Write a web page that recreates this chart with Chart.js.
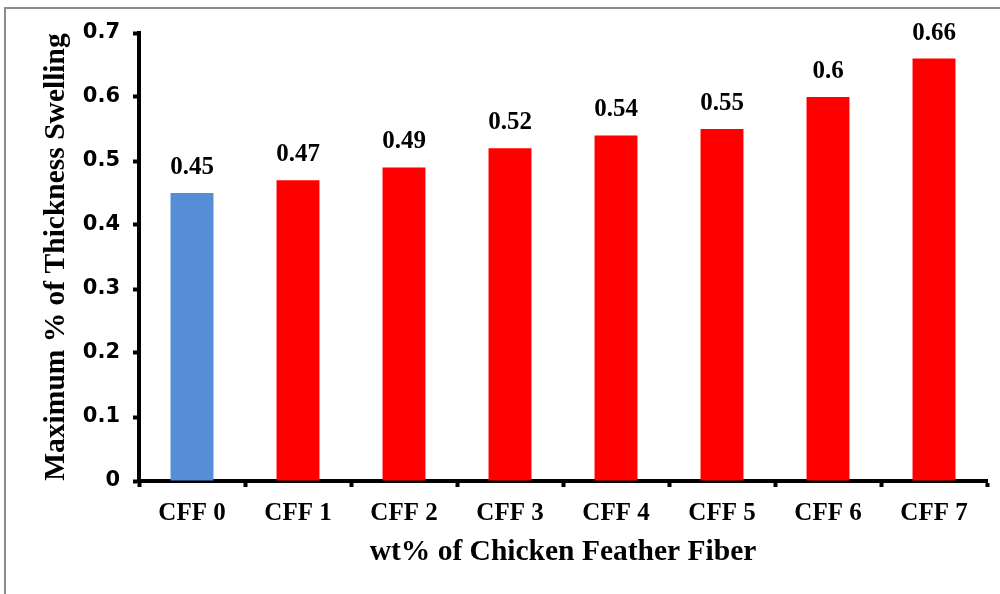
<!DOCTYPE html>
<html>
<head>
<meta charset="utf-8">
<script src="https://cdn.jsdelivr.net/npm/chart.js@4/dist/chart.umd.min.js"></script>
<style>
  html, body { margin: 0; padding: 0; background: #ffffff; }
  #wrap { width: 1000px; height: 594px; }
</style>
</head>
<body>
<div id="wrap"><canvas id="c" width="1000" height="594"></canvas></div>
<script>
// Sample codes and measured maximum thickness swelling
const categories = ['CFF 0', 'CFF 1', 'CFF 2', 'CFF 3', 'CFF 4', 'CFF 5', 'CFF 6', 'CFF 7'];
const swelling = [0.45, 0.47, 0.49, 0.52, 0.54, 0.55, 0.6, 0.66];
const yTicks = [0, 0.1, 0.2, 0.3, 0.4, 0.5, 0.6, 0.7];

const CONTROL_BLUE = '#558ED5';
const FIBER_RED = '#FF0000';
const barColors = categories.map((_, i) => i === 0 ? CONTROL_BLUE : FIBER_RED);

const serifBold = (size) => ({ family: '"Liberation Serif", "Times New Roman", serif', size: size, weight: 'bold' });

// Light grey frame around the figure
const framePlugin = {
  id: 'frame',
  beforeDraw(chart) {
    const ctx = chart.ctx;
    ctx.save();
    ctx.fillStyle = '#ffffff';
    ctx.fillRect(0, 0, chart.width, chart.height);
    ctx.strokeStyle = '#8c8c8c';
    ctx.lineWidth = 2;
    ctx.beginPath();
    ctx.moveTo(5, chart.height);
    ctx.lineTo(5, 8);
    ctx.lineTo(chart.width, 8);
    ctx.stroke();
    ctx.restore();
  }
};

// Value printed above each bar
const valueLabels = {
  id: 'valueLabels',
  afterDatasetsDraw(chart) {
    const ctx = chart.ctx;
    const meta = chart.getDatasetMeta(0);
    const f = serifBold(25);
    ctx.save();
    ctx.font = `${f.weight} ${f.size}px ${f.family}`;
    ctx.fillStyle = '#000000';
    ctx.textAlign = 'center';
    ctx.textBaseline = 'alphabetic';
    meta.data.forEach((bar, i) => {
      ctx.fillText(String(swelling[i]), bar.x, bar.y - 19);
    });
    ctx.restore();
  }
};

new Chart(document.getElementById('c'), {
  type: 'bar',
  data: {
    labels: categories,
    datasets: [{
      data: swelling,
      backgroundColor: barColors,
      borderWidth: 0,
      barPercentage: 0.405,
      categoryPercentage: 1.0
    }]
  },
  options: {
    responsive: false,
    animation: false,
    layout: { padding: { left: 0, top: 33, right: 13, bottom: 0 } },
    plugins: {
      legend: { display: false },
      tooltip: { enabled: false }
    },
    scales: {
      x: {
        grid: {
          display: true,
          offset: true,
          drawOnChartArea: false,
          drawTicks: true,
          tickLength: 6,
          tickWidth: 4,
          tickColor: '#000000'
        },
        border: { display: true, color: '#000000', width: 4 },
        ticks: {
          color: '#000000',
          font: serifBold(25),
          padding: 12,
          maxRotation: 0,
          autoSkip: false
        },
        title: {
          display: true,
          text: 'wt% of Chicken Feather Fiber',
          color: '#000000',
          font: serifBold(29.5),
          padding: { top: 0, bottom: 24 }
        },
        afterFit(scale) { scale.height = 113; }
      },
      y: {
        min: 0,
        max: 0.7,
        afterBuildTicks(scale) { scale.ticks = yTicks.map(v => ({ value: v })); },
        grid: {
          display: true,
          drawOnChartArea: false,
          drawTicks: true,
          tickLength: 6,
          tickWidth: 4,
          tickColor: '#000000'
        },
        border: { display: true, color: '#000000', width: 4 },
        ticks: {
          color: '#000000',
          font: { family: '"DejaVu Sans", Arial, sans-serif', size: 21, weight: 'bold' },
          padding: 13,
          callback: (v) => v === 0 ? '0' : Number(v).toFixed(1)
        },
        title: {
          display: true,
          text: 'Maximum % of Thickness Swelling',
          color: '#000000',
          font: serifBold(29.5),
          padding: { top: 39, bottom: 0 }
        },
        afterFit(scale) { scale.width = 139; }
      }
    }
  },
  plugins: [framePlugin, valueLabels]
});
</script>
</body>
</html>
